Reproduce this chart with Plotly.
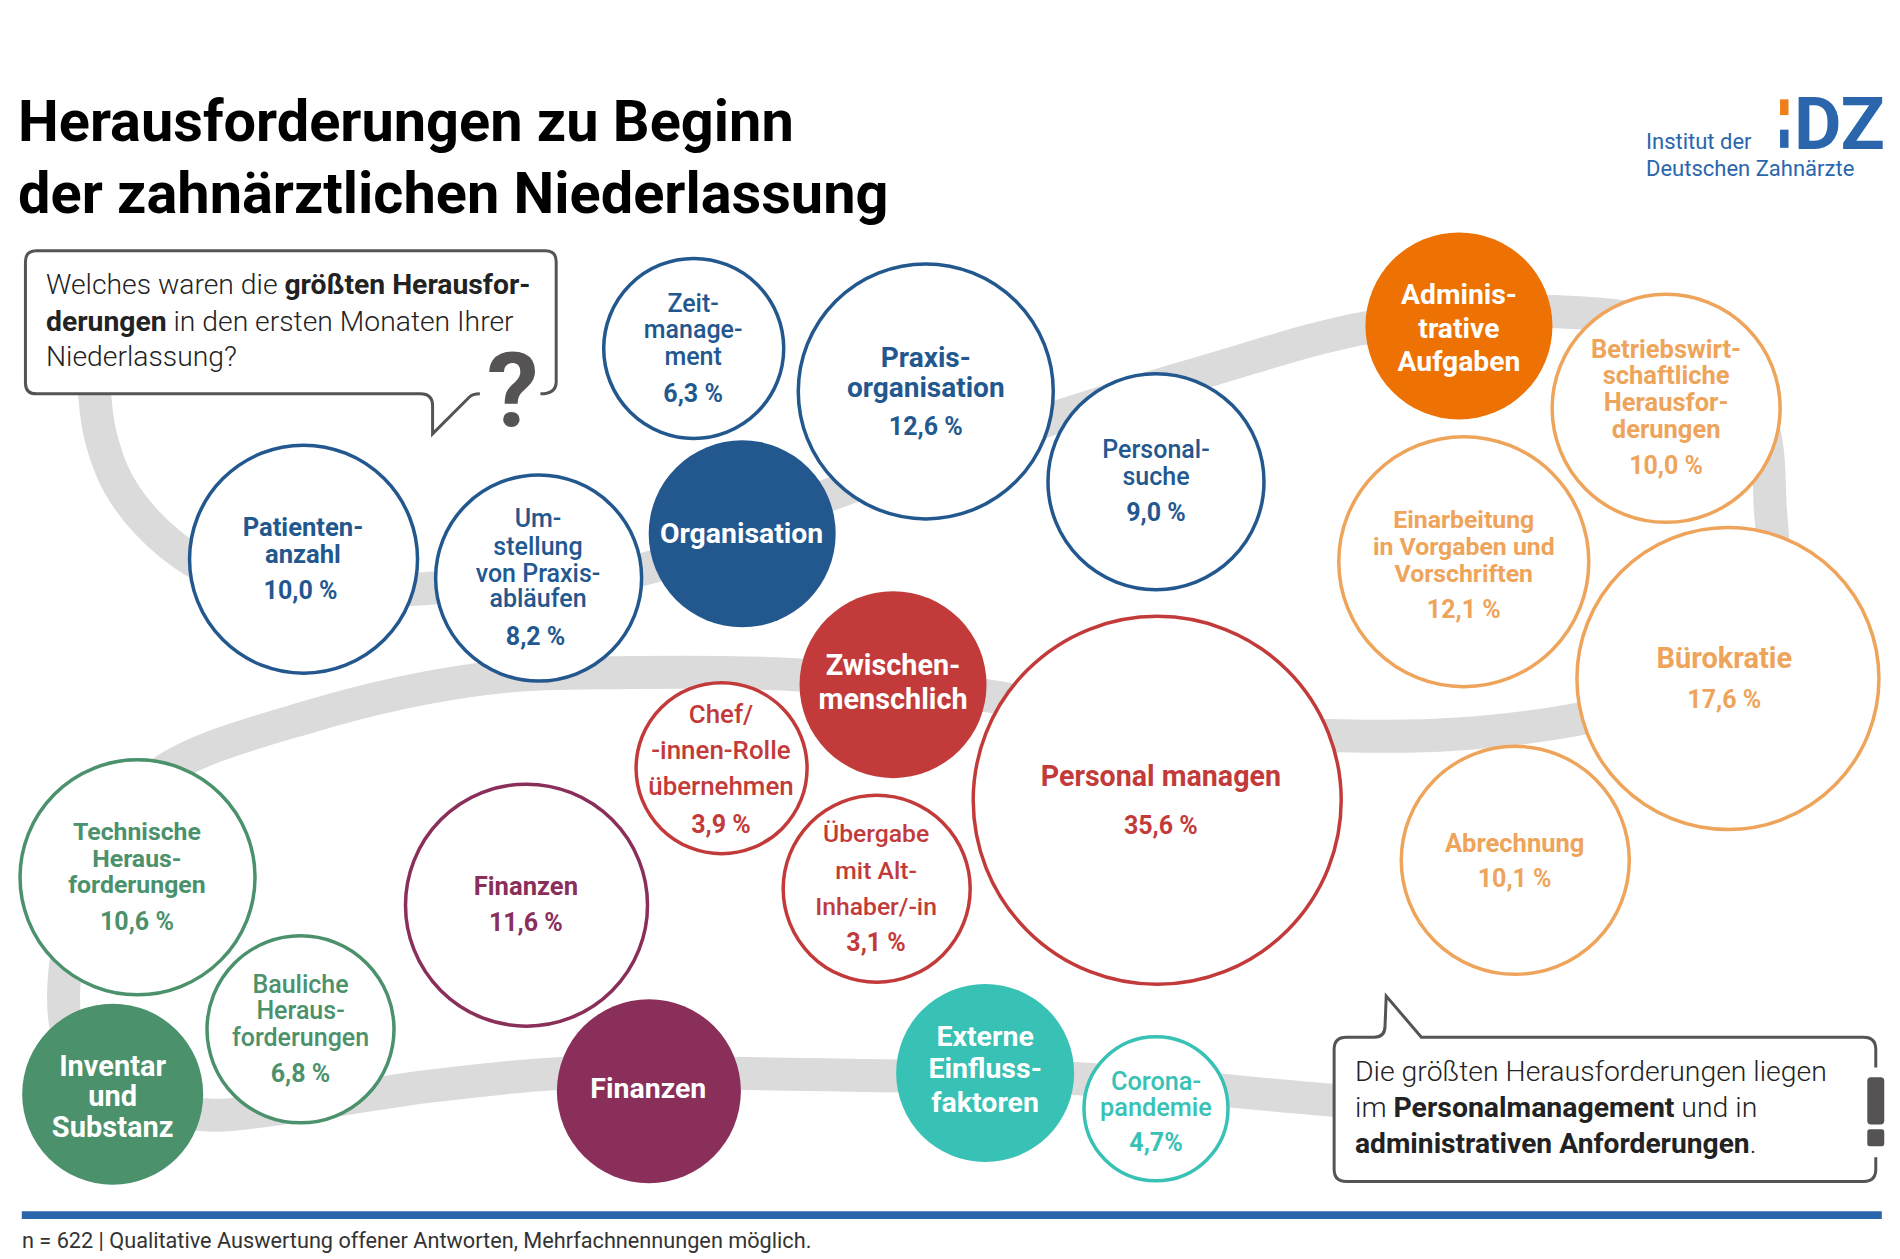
import plotly.graph_objects as go

FONT = "Roboto"
BLUE, ORANGE, LORANGE, RED = "#23588f", "#ee7203", "#eea45a", "#c23b3a"
PURPLE, GREEN, TEAL = "#8a2e5a", "#4a916c", "#38c1b5"
GREY = "#dcdbdc"
DARK = "#555353"

# Data ----------------------------------------------------------------
categories = [
    "Patienten-|anzahl", "Um-|stellung|von Praxis-|abläufen", "Organisation",
    "Zeit-|manage-|ment", "Praxis-|organisation", "Personal-|suche",
    "Adminis-|trative|Aufgaben", "Betriebswirt-|schaftliche|Herausfor-|derungen",
    "Einarbeitung|in Vorgaben und|Vorschriften", "Bürokratie", "Abrechnung",
    "Personal managen", "Zwischen-|menschlich", "Chef/|-innen-Rolle|übernehmen",
    "Übergabe|mit Alt-|Inhaber/-in", "Finanzen", "Finanzen",
    "Externe|Einfluss-|faktoren", "Corona-|pandemie",
    "Technische|Heraus-|forderungen", "Bauliche|Heraus-|forderungen",
    "Inventar|und|Substanz",
]
values = [10.0, 8.2, None, 6.3, 12.6, 9.0, None, 10.0, 12.1, 17.6, 10.1,
          35.6, None, 3.9, 3.1, 11.6, None, None, 4.7, 10.6, 6.8, None]

# Layout of the bubbles (x, y in the 1568x1039 axis units; diameter in px)
bubble_x = [250.5, 444.5, 612.5, 572.5, 764, 954, 1204, 1375, 1208, 1426, 1250.5,
            955, 737, 595.5, 723.5, 434.5, 535.5, 813, 954, 113.5, 248, 93]
bubble_y = [461.5, 477, 440.5, 287.5, 323, 397.5, 269, 337, 463.5, 560, 710,
            660.5, 565, 634, 733.5, 747, 900.5, 885.5, 915, 724, 849.5, 903]
bubble_d = [228, 206, 187, 180, 255, 216, 187, 228, 250, 302, 228,
            368, 187, 171, 187, 242, 184, 178, 144, 235, 187, 181]
colors = [BLUE, BLUE, BLUE, BLUE, BLUE, BLUE, ORANGE, LORANGE, LORANGE, LORANGE, LORANGE,
          RED, RED, RED, RED, PURPLE, PURPLE, TEAL, TEAL, GREEN, GREEN, GREEN]
filled = [False, False, True, False, False, False, True, False, False, False, False,
          False, True, False, False, False, True, True, False, False, False, True]
text_x = [250, 444, 612, 572, 764, 954, 1204, 1375, 1208, 1423, 1250,
          958, 737, 595, 723, 434, 535, 813, 954, 113, 248, 93]
line_y = [[437, 459], [430, 453, 475, 496], [442], [252, 274, 296], [297, 322], [373, 395],
          [245, 273, 300], [290, 312, 334, 356], [431, 453, 475], [545], [698],
          [643], [551, 579], [591, 621, 651], [690, 720, 750], [733], [900],
          [857, 884, 912], [894, 916], [688, 710, 732], [814, 836, 858], [882, 907, 932]]
value_y = [489, 527, None, 327, 354, 425, None, 386, 505, 579, 727,
           683, None, 682, 780, 763, None, None, 945, 762, 888, None]
label_size = [25.6, 25, 28.4, 25, 28, 25, 28.3, 25.5, 24.8, 29, 25.5,
              28.6, 28.8, 25.9, 24.7, 25.6, 28.5, 28.5, 25.3, 24.8, 25, 29]
label_weight = [700, 500, 700, 500, 700, 500, 700, 700, 700, 700, 700,
                700, 700, 500, 500, 700, 700, 700, 500, 700, 500, 700]

# Grey connecting ribbon
ribbon_x = [78, 83, 97, 122, 160, 205, 250, 360, 530, 680, 870, 1000, 1130, 1280, 1385, 1450, 1461, 1461, 1426,
            1310, 1200, 1095, 955, 820, 737, 660, 520, 400, 260, 130, 85, 55, 58, 93, 168, 230, 350,
            460, 535, 740, 885, 1100, 1200]
ribbon_y = [325, 360, 398, 432, 463, 482, 490, 485, 470, 410, 345, 305, 270, 257, 275, 340, 420, 480, 560,
            592, 606, 607, 600, 575, 565, 557, 555, 560, 590, 640, 700, 790, 860, 903, 920, 915, 897,
            886, 885, 888, 890, 908, 915]

# Figure --------------------------------------------------------------
fig = go.Figure()
fig.add_trace(go.Scatter(x=ribbon_x, y=ribbon_y, mode="lines", hoverinfo="skip",
                         line=dict(color=GREY, width=33, shape="spline", smoothing=1.0)))

# ribbon ends under the two speech boxes; bubbles in data order
for i, name in enumerate(categories):
    fig.add_trace(go.Scatter(
        x=[bubble_x[i]], y=[bubble_y[i]], mode="markers", name=name.replace("|", " "),
        marker=dict(size=bubble_d[i], color=colors[i] if filled[i] else "white",
                    line=dict(color=colors[i], width=0 if filled[i] else 3.5))))

for i, name in enumerate(categories):
    col = "white" if filled[i] else colors[i]
    parts = name.split("|")
    fig.add_trace(go.Scatter(
        x=[text_x[i]] * len(parts), y=line_y[i], text=parts, mode="text", hoverinfo="skip",
        textposition="middle center",
        textfont=dict(family=FONT, size=label_size[i], color=col, weight=label_weight[i])))
    if values[i] is not None:
        sep = "" if categories[i].startswith("Corona") else " "
        fig.add_trace(go.Scatter(
            x=[text_x[i] - (2 if categories[i] in ("Patienten-|anzahl", "Um-|stellung|von Praxis-|abläufen") else 0)],
            y=[value_y[i]], text=[f"{values[i]:.1f}".replace(".", ",") + sep + "%"],
            mode="text", hoverinfo="skip", textposition="middle center",
            textfont=dict(family=FONT, size=25, color=col, weight=700)))

shapes = [
    # question box
    dict(type="path", line=dict(width=0), fillcolor="white", layer="above",
         path="M30,207 L450,207 Q459,207 459,216 L459,315 Q459,325 448,325 L392,325 L357,358 L357,335 "
              "Q357,325 347,325 L30,325 Q21,325 21,316 L21,216 Q21,207 30,207 Z"),
    dict(type="path", line=dict(color=DARK, width=3), layer="above",
         path="M446,325 Q459,325 459,315 L459,216 Q459,207 450,207 L30,207 Q21,207 21,216 L21,316 "
              "Q21,325 30,325 L347,325 Q357,325 357,335 L357,358 L387,328 Q390,325 396,325"),
    # answer box
    dict(type="path", line=dict(width=0), fillcolor="white", layer="above",
         path="M1111,856 L1134,856 Q1143,856 1143,847 L1144,822 L1173,856 L1538,856 Q1548,856 1548,866 "
              "L1548,965 Q1548,975 1538,975 L1111,975 Q1101,975 1101,965 L1101,866 Q1101,856 1111,856 Z"),
    dict(type="path", line=dict(color=DARK, width=3), layer="above",
         path="M1548,881 L1548,866 Q1548,856 1538,856 L1173,856 L1144,822 L1143,847 Q1143,856 1134,856 L1111,856 "
              "Q1101,856 1101,866 L1101,965 Q1101,975 1111,975 L1538,975 Q1548,975 1548,965 L1548,955"),
    # exclamation mark
    dict(type="path", line=dict(width=0), fillcolor=DARK, layer="above",
         path="M1544,889 L1552,889 Q1555,889 1555,892 L1555,925 Q1555,928 1552,928 L1544,928 Q1541,928 1541,925 "
              "L1541,892 Q1541,889 1544,889 Z"),
    dict(type="path", line=dict(width=0), fillcolor=DARK, layer="above",
         path="M1543,932 L1553,932 Q1555,932 1555,934 L1555,944 Q1555,946 1553,946 L1543,946 Q1541,946 1541,944 "
              "L1541,934 Q1541,932 1543,932 Z"),
    # rule and logo points
    dict(type="rect", x0=18, x1=1553, y0=999.5, y1=1006, line=dict(width=0), fillcolor="#2b66ad", layer="above"),
    dict(type="rect", x0=1469, x1=1476, y0=82, y1=95, line=dict(width=0), fillcolor="#ee7f1a", layer="above"),
    dict(type="rect", x0=1469, x1=1476, y0=107, y1=122, line=dict(width=0), fillcolor="#2b66ad", layer="above"),
]


def note(x, y, text, size, color="#000000", anchor="left", weight=400):
    return dict(x=x, y=y, xref="x", yref="y", text=text, showarrow=False, xanchor=anchor, yanchor="middle",
                align=anchor, font=dict(family=FONT, size=size, color=color, weight=weight))


annotations = [
    note(13.5, 100, "<b>Herausforderungen zu Beginn</b>", 57.7),
    note(13.5, 159, "<b>der zahnärztlichen Niederlassung</b>", 57.7),
    note(36.5, 235, "Welches waren die <b>größten Herausfor-</b>", 28.3, "#222222", weight=300),
    note(36.5, 265, "<b>derungen</b> in den ersten Monaten Ihrer", 28.3, "#222222", weight=300),
    note(36.5, 294, "Niederlassung?", 28.3, "#222222", weight=300),
    note(423, 322, "<b>?</b>", 104, DARK, "center"),
    note(1116.5, 884, "Die größten Herausforderungen liegen", 28.4, "#222222", weight=300),
    note(1116.5, 914, "im <b>Personalmanagement</b> und in", 28.4, "#222222", weight=300),
    note(1116.5, 944, "<b>administrativen Anforderungen</b>.", 28.2, "#222222", weight=300),
    note(16.5, 1024, "n = 622 | Qualitative Auswertung offener Antworten, Mehrfachnennungen möglich.", 21.7, "#333333"),
    note(1356.5, 117, "Institut der", 22, "#2b66ad"),
    note(1356.5, 139, "Deutschen Zahnärzte", 22, "#2b66ad"),
    note(1479, 102, "<b>DZ</b>", 73, "#2b66ad"),
]

fig.update_layout(
    width=1900, height=1259, margin=dict(l=0, r=0, t=0, b=0), showlegend=False,
    paper_bgcolor="white", plot_bgcolor="white", shapes=shapes, annotations=annotations,
    xaxis=dict(range=[0, 1568], visible=False, fixedrange=True),
    yaxis=dict(range=[1039, 0], visible=False, fixedrange=True),
)
fig.write_html("out.html", config=dict(displayModeBar=False),
               post_script="document.body.style.margin='0';document.body.style.overflow='hidden';")
